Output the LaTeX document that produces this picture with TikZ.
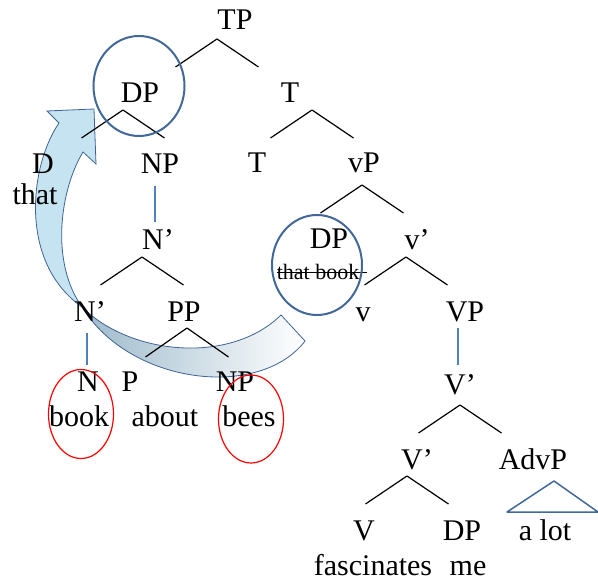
\documentclass[tikz,border=0pt]{standalone}
\usepackage{fontspec}
\setmainfont{Liberation Serif}
\usetikzlibrary{shapes.geometric}
\definecolor{ringblue}{RGB}{65,104,152}
\definecolor{stemblue}{RGB}{79,129,189}
\definecolor{arrowfill}{RGB}{198,227,241}
\definecolor{arrowback}{RGB}{158,186,203}
\definecolor{arrowline}{RGB}{62,100,150}
\begin{document}
\begin{tikzpicture}
[x=1pt,y=-1pt,
 labeldecorate/.style={anchor=base,inner sep=0pt,font=\fontsize{30}{35}\selectfont},
 smalldecorate/.style={anchor=base,inner sep=0pt,font=\fontsize{22}{26}\selectfont},
 linedecorate/.style={-,line width=1.2pt},
 stemdecorate/.style={-,line width=1.5pt,stemblue},
 arrowdecorate/.style={draw=arrowline,line width=0.8pt},
 ringdecorate/.style={shape=ellipse,draw=ringblue,line width=2pt,inner sep=0pt},
 reddecorate/.style={shape=ellipse,draw=red,line width=1.2pt,inner sep=0pt}]
\useasboundingbox (0,0) rectangle (598,580);
%%% movement arrow
% back of the ribbon
\path[arrowdecorate,left color=arrowback,right color=white]
(82,307) .. controls (130,355) and (230,365) .. (281,315) -- (305,341)
.. controls (260,400) and (130,385) .. (82,307) -- cycle;
% front of the ribbon with head
\path[arrowdecorate,fill=arrowfill]
(82,307) .. controls (18,262) and (30,165) .. (59,123) -- (47,111) -- (94,109)
-- (96,164) -- (83,152) .. controls (60,190) and (50,262) .. (82,307) -- cycle;
%
%%% labels
% upper part
\node (tp) at (235,30) [labeldecorate] {TP};
\node (dp) at (140,103) [labeldecorate] {DP};
\node (t1) at (290,103) [labeldecorate] {T};
\node (d) at (43,174) [labeldecorate] {D};
\node (that) at (35,205) [labeldecorate] {that};
\node (np1) at (160,174) [labeldecorate] {NP};
\node (t2) at (257,173) [labeldecorate] {T};
\node (vp) at (364,173) [labeldecorate] {vP};
% middle part
\node (nb1) at (158,250) [labeldecorate] {N’};
\node (dp2) at (329,249) [labeldecorate] {DP};
\node (thatbook) at (318,280) [smalldecorate] {that book};
\node (vb) at (417,250) [labeldecorate] {v’};
\node (nb2) at (90,322) [labeldecorate] {N’};
\node (pp) at (184,322) [labeldecorate] {PP};
\node (v) at (363,322) [labeldecorate] {v};
\node (vpbig) at (465,322) [labeldecorate] {VP};
\node (n) at (88,392) [labeldecorate] {N};
\node (p) at (130,392) [labeldecorate] {P};
\node (np2) at (235,392) [labeldecorate] {NP};
\node (vbar1) at (460,395) [labeldecorate] {V’};
\node (book) at (79,427) [labeldecorate] {book};
\node (about) at (165,427) [labeldecorate] {about};
\node (bees) at (249,427) [labeldecorate] {bees};
% lower part
\node (vbar2) at (417,470) [labeldecorate] {V’};
\node (advp) at (533,470) [labeldecorate] {AdvP};
\node (vv) at (364,540) [labeldecorate] {V};
\node (dp3) at (462,540) [labeldecorate] {DP};
\node (alot) at (545,540) [labeldecorate] {a lot};
\node (fasc) at (373,575) [labeldecorate] {fascinates};
\node (me) at (468,575) [labeldecorate] {me};
%
%%% branches
% branch points
\coordinate (tp-b) at (217,39);   \coordinate (tp-l) at (175.5,67);    \coordinate (tp-r) at (258.5,67);
\coordinate (dp-b) at (123,110);  \coordinate (dp-l) at (81.5,138);    \coordinate (dp-r) at (164.5,138);
\coordinate (t1-b) at (312,110);  \coordinate (t1-l) at (270.5,138);   \coordinate (t1-r) at (353.5,138);
\coordinate (vp-b) at (362,185);  \coordinate (vp-l) at (320.5,213);   \coordinate (vp-r) at (403.5,213);
\coordinate (vb-b) at (406,257);  \coordinate (vb-l) at (364.5,285);   \coordinate (vb-r) at (447.5,285);
\coordinate (nb1-b) at (142,257); \coordinate (nb1-l) at (100.5,285);  \coordinate (nb1-r) at (183.5,285);
\coordinate (pp-b) at (187,328);  \coordinate (pp-l) at (145.5,357);   \coordinate (pp-r) at (228.5,357);
\coordinate (vbar1-b) at (460,405); \coordinate (vbar1-l) at (418.5,433); \coordinate (vbar1-r) at (501.5,433);
\coordinate (vbar2-b) at (407,476); \coordinate (vbar2-l) at (365.5,504); \coordinate (vbar2-r) at (448.5,504);
% lines
\path
(tp-b) edge[linedecorate] (tp-l)  (tp-b) edge[linedecorate] (tp-r)
(dp-b) edge[linedecorate] (dp-l)  (dp-b) edge[linedecorate] (dp-r)
(t1-b) edge[linedecorate] (t1-l)  (t1-b) edge[linedecorate] (t1-r)
(vp-b) edge[linedecorate] (vp-l)  (vp-b) edge[linedecorate] (vp-r)
(vb-b) edge[linedecorate] (vb-l)  (vb-b) edge[linedecorate] (vb-r)
(nb1-b) edge[linedecorate] (nb1-l)  (nb1-b) edge[linedecorate] (nb1-r)
(pp-b) edge[linedecorate] (pp-l)  (pp-b) edge[linedecorate] (pp-r)
(vbar1-b) edge[linedecorate] (vbar1-l)  (vbar1-b) edge[linedecorate] (vbar1-r)
(vbar2-b) edge[linedecorate] (vbar2-l)  (vbar2-b) edge[linedecorate] (vbar2-r);
% unary stems
\coordinate (np1-d) at (155,186);   \coordinate (nb1-u) at (155,222);
\coordinate (nb2-d) at (87,333);    \coordinate (n-u) at (87,365);
\coordinate (vpbig-d) at (458,328); \coordinate (vbar1-u) at (458,365);
\path
(np1-d) edge[stemdecorate] (nb1-u)
(nb2-d) edge[stemdecorate] (n-u)
(vpbig-d) edge[stemdecorate] (vbar1-u);
% triangle under AdvP
\coordinate (advp-t) at (554,481);
\coordinate (advp-l) at (507,512);
\coordinate (advp-r) at (598,512);
\draw[ringblue,line width=1.5pt,line join=round] (advp-t) -- (advp-l) -- (advp-r) -- cycle;
% struck-out copy
\draw[line width=1.5pt] (thatbook.west) -- ([xshift=8pt]thatbook.east);
%
%%% circles
\node (dpring) at (139,86) [ringdecorate,minimum width=91pt,minimum height=100pt] {};
\node (dpring2) at (317,265) [ringdecorate,minimum width=90pt,minimum height=100pt] {};
\node (bookring) at (81,414) [reddecorate,minimum width=65pt,minimum height=89pt] {};
\node (beesring) at (251,419) [reddecorate,minimum width=65pt,minimum height=88pt] {};
\end{tikzpicture}
\end{document}
